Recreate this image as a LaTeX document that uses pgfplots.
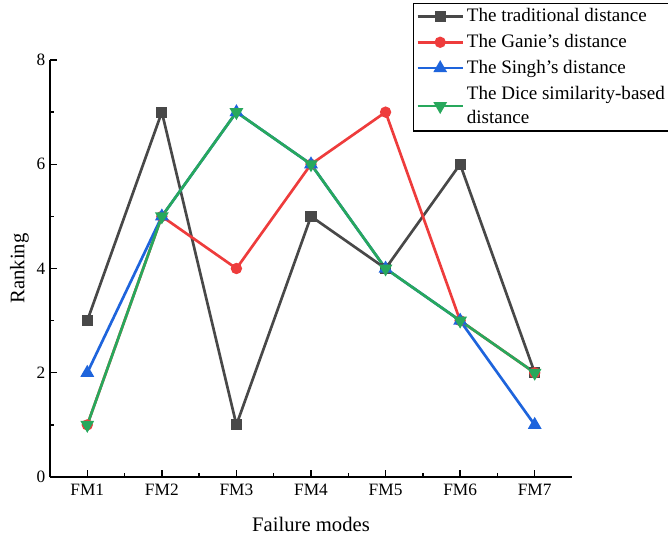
\documentclass[border=0pt]{standalone}
\usepackage{fontspec}
\setmainfont{Liberation Serif}
\usepackage{pgfplots}
\pgfplotsset{compat=1.18}
\definecolor{cgray}{RGB}{72,72,72}
\definecolor{cred}{RGB}{238,60,60}
\definecolor{cblue}{RGB}{30,100,220}
\definecolor{cgreen}{RGB}{40,168,92}
\begin{document}
\begin{tikzpicture}
\useasboundingbox (-37.5pt,-49.5pt) rectangle (463.5pt,357.75pt);
\begin{axis}[
  anchor=south west, at={(0,0)},
  scale only axis, width=391.5pt, height=312.75pt,
  axis x line*=bottom, axis y line*=left,
  axis line style={line width=1pt, -},
  xmin=0.5, xmax=7.5, ymin=0, ymax=8,
  xtick={1,...,7}, xticklabels={FM1,FM2,FM3,FM4,FM5,FM6,FM7},
  minor x tick num=1,
  ytick={0,2,4,6,8}, minor y tick num=1,
  tick align=inside, major tick length=5pt, minor tick length=3pt,
  tick style={line width=1pt, black},
  /pgf/number format/assume math mode=true,
  ticklabel style={font=\fontsize{13}{15}\selectfont},
  xticklabel style={yshift=-2pt},
  xlabel={Failure modes}, ylabel={Ranking},
  label style={font=\fontsize{15.5}{17}\selectfont},
  xlabel style={yshift=-9pt},
  ylabel style={yshift=-1pt},
  legend style={at={(0.6954,1.137)}, anchor=north west, draw=black, line width=0.8pt,
    font=\fontsize{14.3}{18}\selectfont, cells={anchor=west, align=left},
    inner xsep=2pt, inner ysep=2pt, row sep=4pt},
  legend image code/.code={
    \draw[mark repeat=2,mark phase=2] plot coordinates {(0pt,0pt) (17pt,0pt) (34pt,0pt)};},
  every axis plot/.append style={line width=2pt, mark size=3.2pt, mark options={solid}},
]
\addplot[cgray, mark=square*] coordinates {(1,3) (2,7) (3,1) (4,5) (5,4) (6,6) (7,2)};
\addlegendentry{The traditional distance}
\addplot[cred, mark=*] coordinates {(1,1) (2,5) (3,4) (4,6) (5,7) (6,3) (7,2)};
\addlegendentry{The Ganie’s distance}
\addplot[cblue, mark=triangle*, mark size=4pt] coordinates {(1,2) (2,5) (3,7) (4,6) (5,4) (6,3) (7,1)};
\addlegendentry{The Singh’s distance}
\addplot[cgreen, mark=triangle*, mark size=4pt, mark options={rotate=180}] coordinates {(1,1) (2,5) (3,7) (4,6) (5,4) (6,3) (7,2)};
\addlegendentry{The Dice similarity-based\\distance}
\end{axis}
\end{tikzpicture}
\end{document}
